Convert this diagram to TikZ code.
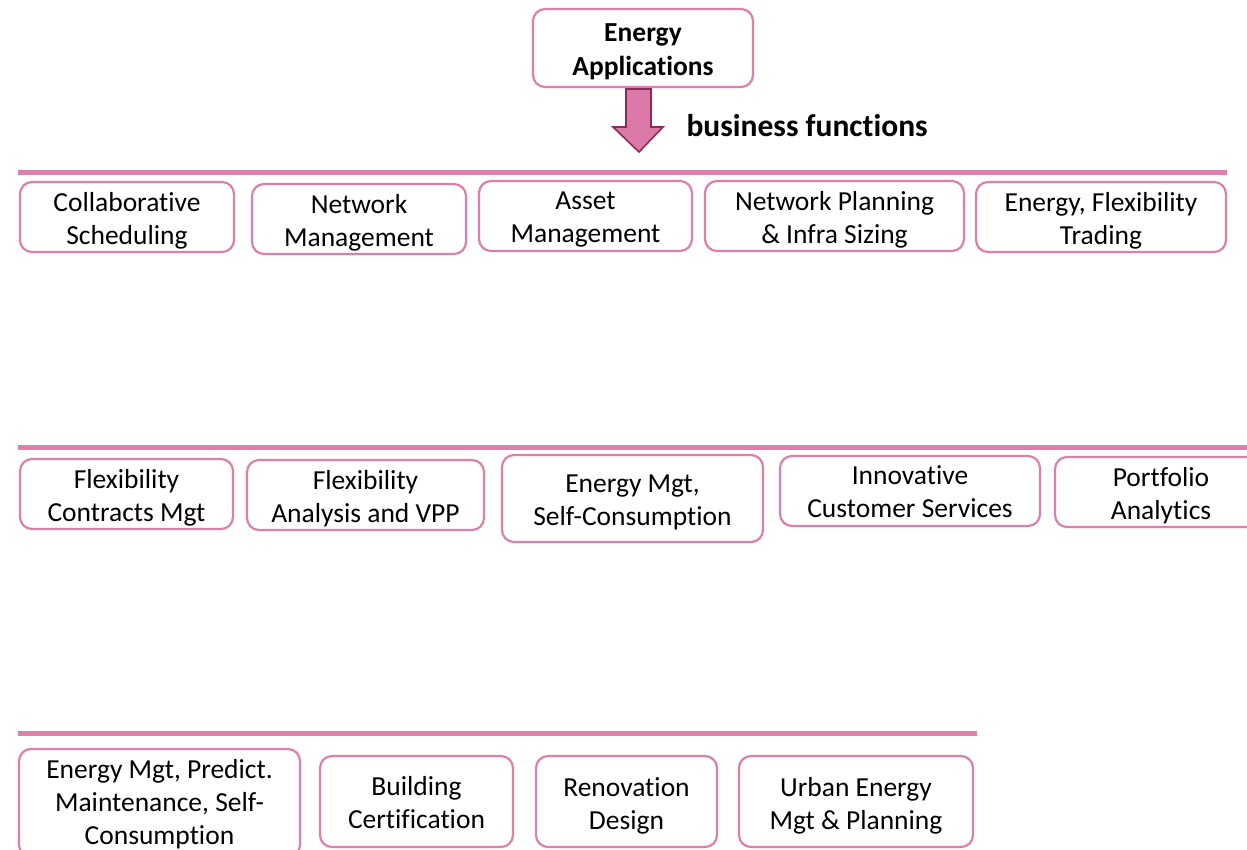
\documentclass[tikz,border=0pt]{standalone}
\usepackage{fontspec}
\setmainfont{Carlito}[Ligatures=NoCommon]
\definecolor{rosy}{HTML}{DE7FAA}
\definecolor{rosydark}{HTML}{8E2A5A}
\definecolor{rosyfill}{HTML}{DB7AA8}
\tikzset{
  fnbox/.style={draw=rosy, line width=2.2pt, rounded corners=12pt, fill=white,
    inner sep=0pt},
  fntext/.style={align=center, text=black, inner sep=0pt, yshift=-4pt,
    font=\fontsize{27.5}{33}\selectfont},
  toptext/.style={fntext, font=\bfseries\fontsize{27.5}{34}\selectfont},
  rule/.style={draw=rosy, line width=5pt},
}
\begin{document}
\begin{tikzpicture}[x=1pt, y=-1pt]
\clip (0,0) rectangle (1247,849);
\fill[white] (0,0) rectangle (1247,849);

% application header and its arrow
\node[fnbox, minimum width=220pt, minimum height=78pt,
  label={[toptext]center:{Energy\\Applications}}] (top) at (643,48) {};
\draw[rosydark, fill=rosyfill, line width=1.6pt, line join=miter]
  (626,89) -- (651,89) -- (651,127) -- (663,127) -- (639,152) -- (613,127) -- (626,127) -- cycle;
\node[font=\bfseries\fontsize{31.5}{36}\selectfont, anchor=west] (bf) at (683,126) {business functions};

% separating rules
\coordinate (l1a) at (18,172);  \coordinate (l1b) at (1227,172);
\coordinate (l2a) at (18,447);  \coordinate (l2b) at (1260,447);
\coordinate (l3a) at (18,733);  \coordinate (l3b) at (977,733);
\draw[rule] (l1a) -- (l1b);
\draw[rule] (l2a) -- (l2b);
\draw[rule] (l3a) -- (l3b);

% first row
\node[fnbox, minimum width=214pt, minimum height=70pt,
  label={[fntext]center:{Collaborative\\Scheduling}}] (a1) at (127,217) {};
\node[fnbox, minimum width=214pt, minimum height=70pt,
  label={[fntext]center:{Network\\Management}}] (a2) at (359,219) {};
\node[fnbox, minimum width=213pt, minimum height=70pt,
  label={[fntext]center:{Asset\\Management}}] (a3) at (585.5,216) {};
\node[fnbox, minimum width=259pt, minimum height=70pt,
  label={[fntext]center:{Network Planning\\\& Infra Sizing}}] (a4) at (834.5,216) {};
\node[fnbox, minimum width=250pt, minimum height=70pt,
  label={[fntext]center:{Energy, Flexibility\\Trading}}] (a5) at (1101,217) {};

% second row
\node[fnbox, minimum width=213pt, minimum height=70pt,
  label={[fntext]center:{Flexibility\\Contracts Mgt}}] (b1) at (126.5,494) {};
\node[fnbox, minimum width=237pt, minimum height=70pt,
  label={[fntext]center:{Flexibility\\Analysis and VPP}}] (b2) at (365.5,495) {};
\node[fnbox, minimum width=261pt, minimum height=87pt,
  label={[fntext]center:{Energy Mgt,\\Self-Consumption}}] (b3) at (632.5,498.5) {};
\node[fnbox, minimum width=260pt, minimum height=70pt,
  label={[fntext, yshift=3pt]center:{Innovative\\Customer Services}}] (b4) at (910,491) {};
\node[fnbox, minimum width=212pt, minimum height=70pt,
  label={[fntext]center:{Portfolio\\Analytics}}] (b5) at (1161,492) {};

% third row
\node[fnbox, minimum width=281pt, minimum height=108pt,
  label={[fntext, yshift=2.5pt]center:{Energy Mgt, Predict.\\Maintenance, Self-\\Consumption}}] (c1) at (159.5,803) {};
\node[fnbox, minimum width=193pt, minimum height=91pt,
  label={[fntext, yshift=2.5pt]center:{Building\\Certification}}] (c2) at (416.5,801.5) {};
\node[fnbox, minimum width=181pt, minimum height=91pt,
  label={[fntext]center:{Renovation\\Design}}] (c3) at (626.5,801.5) {};
\node[fnbox, minimum width=234pt, minimum height=91pt,
  label={[fntext]center:{Urban Energy\\Mgt \& Planning}}] (c4) at (856,801.5) {};
\end{tikzpicture}
\end{document}
